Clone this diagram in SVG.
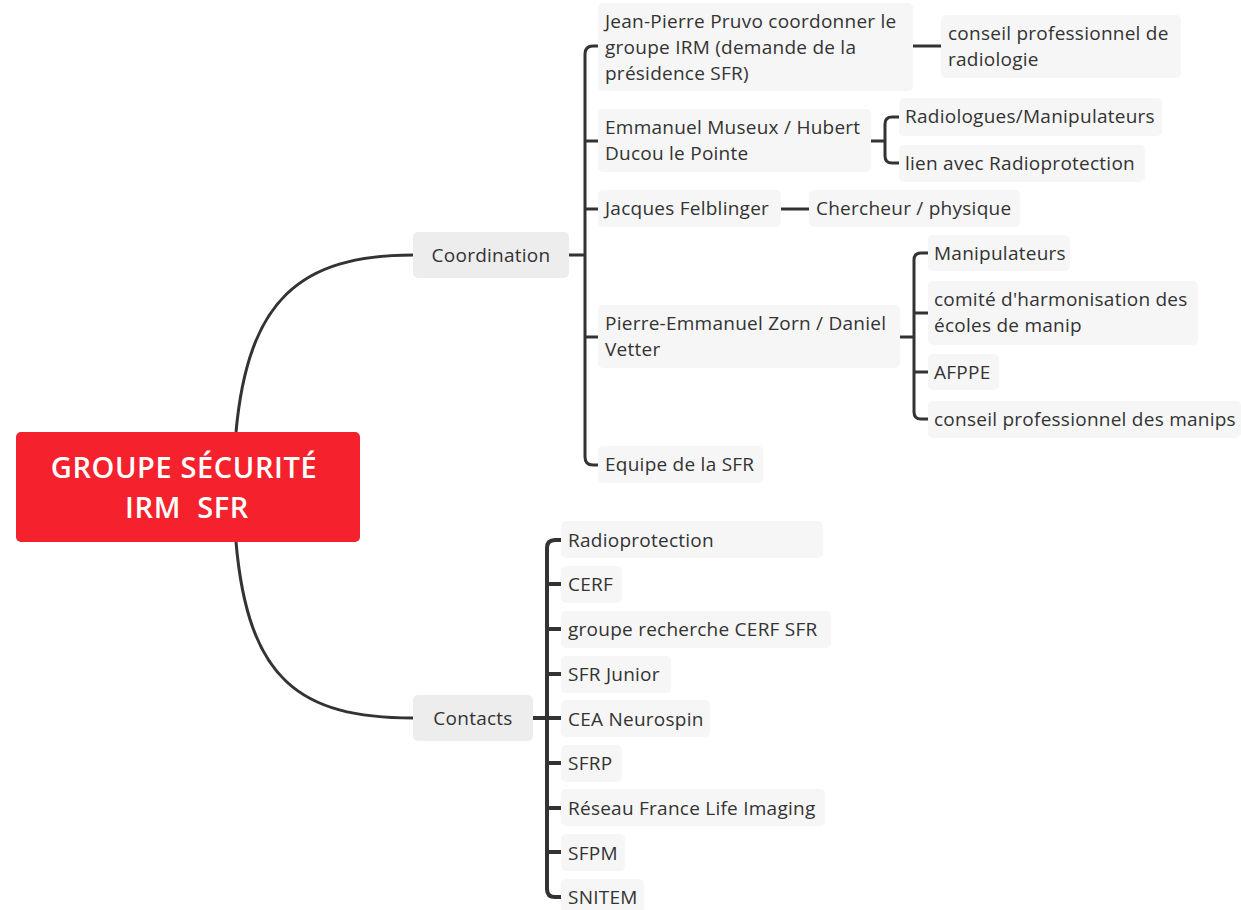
<svg xmlns="http://www.w3.org/2000/svg" width="1241" height="910" viewBox="0 0 1241 910">
<style>
.c{fill:none;stroke:#333;stroke-width:3;stroke-linecap:butt}
.ck{fill:none;stroke:#333;stroke-width:4}
.b{fill:#f6f6f6}
.m{fill:#ededed}
text{font-family:"Open Sans","Liberation Sans",sans-serif;font-size:19px;letter-spacing:0.25px;fill:#333}
.r{font-family:"Open Sans","Liberation Sans",sans-serif;font-size:29px;font-weight:600;letter-spacing:0.6px;fill:#fff;white-space:pre}
</style>
<rect width="1241" height="910" fill="#fff"/>
<g id="connectors">
<path class="c" d="M236,432 C248,300 300,255 413,255"/>
<path class="c" d="M236,542 C248,680 300,718 413,718"/>
<path class="c" d="M569,255 H585 M598,46 H593 Q585,46 585,54 V457 Q585,465 593,465 H598 M585,141 H598 M585,209 H598 M585,337 H598"/>
<path class="c" d="M913,46 H941"/>
<path class="c" d="M871,141 H885 M899,117 H892 Q885,117 885,124 V156 Q885,163 892,163 H899"/>
<path class="c" d="M781,209 H809"/>
<path class="c" d="M900,337 H914 M928,253 H921 Q914,253 914,260 V412 Q914,419 921,419 H928 M914,313 H928 M914,372 H928"/>
<path class="ck" d="M533,718 H547 M561,540 H555 Q547,540 547,548 V889 Q547,897 555,897 H561 M547,584 H561 M547,629 H561 M547,674 H561 M547,718 H561 M547,763 H561 M547,808 H561 M547,852 H561"/>
</g>
<g id="root">
<rect x="16" y="432" width="344" height="110" rx="5" fill="#f5222d"/>
<text class="r" x="184" y="478" text-anchor="middle">GROUPE SÉCURITÉ</text>
<text class="r" x="187" y="518" text-anchor="middle" xml:space="preserve">IRM  SFR</text>
</g>
<g id="coordination">
<rect class="m" x="413" y="232" width="156" height="46" rx="5"/>
<text x="491" y="262" text-anchor="middle">Coordination</text>
</g>
<g id="contacts">
<rect class="m" x="413" y="695" width="120" height="46" rx="5"/>
<text x="473" y="725" text-anchor="middle">Contacts</text>
</g>
<g id="jp">
<rect class="b" x="598" y="3" width="315" height="88" rx="5"/>
<text x="605" y="28">Jean-Pierre Pruvo coordonner le</text>
<text x="605" y="54">groupe IRM (demande de la</text>
<text x="605" y="80">présidence SFR)</text>
</g>
<g id="cpr">
<rect class="b" x="941" y="15" width="240" height="63" rx="5"/>
<text x="948" y="40">conseil professionnel de</text>
<text x="948" y="66">radiologie</text>
</g>
<g id="em">
<rect class="b" x="598" y="109" width="273" height="63" rx="5"/>
<text x="605" y="134">Emmanuel Museux / Hubert</text>
<text x="605" y="160">Ducou le Pointe</text>
</g>
<g id="rm">
<rect class="b" x="899" y="98" width="263" height="38" rx="5"/>
<text x="905" y="123">Radiologues/Manipulateurs</text>
</g>
<g id="lr">
<rect class="b" x="899" y="145" width="246" height="37" rx="5"/>
<text x="905" y="170">lien avec Radioprotection</text>
</g>
<g id="jf">
<rect class="b" x="598" y="190" width="183" height="37" rx="5"/>
<text x="605" y="215">Jacques Felblinger</text>
</g>
<g id="cp">
<rect class="b" x="809" y="190" width="211" height="37" rx="5"/>
<text x="816" y="215">Chercheur / physique</text>
</g>
<g id="pz">
<rect class="b" x="598" y="305" width="302" height="63" rx="5"/>
<text x="605" y="330">Pierre-Emmanuel Zorn / Daniel</text>
<text x="605" y="356">Vetter</text>
</g>
<g id="mp">
<rect class="b" x="928" y="235" width="142" height="36" rx="5"/>
<text x="934" y="260">Manipulateurs</text>
</g>
<g id="ch">
<rect class="b" x="928" y="281" width="270" height="64" rx="5"/>
<text x="934" y="306">comité d'harmonisation des</text>
<text x="934" y="332">écoles de manip</text>
</g>
<g id="af">
<rect class="b" x="928" y="354" width="71" height="36" rx="5"/>
<text x="934" y="379">AFPPE</text>
</g>
<g id="cm">
<rect class="b" x="928" y="401" width="313" height="37" rx="5"/>
<text x="934" y="426">conseil professionnel des manips</text>
</g>
<g id="eq">
<rect class="b" x="598" y="446" width="165" height="37" rx="5"/>
<text x="605" y="471">Equipe de la SFR</text>
</g>
<g id="k1"><rect class="b" x="561" y="521" width="262" height="37" rx="5"/><text x="568" y="547">Radioprotection</text></g>
<g id="k2"><rect class="b" x="561" y="566" width="61" height="37" rx="5"/><text x="568" y="591">CERF</text></g>
<g id="k3"><rect class="b" x="561" y="611" width="270" height="37" rx="5"/><text x="568" y="636">groupe recherche CERF SFR</text></g>
<g id="k4"><rect class="b" x="561" y="656" width="110" height="37" rx="5"/><text x="568" y="681">SFR Junior</text></g>
<g id="k5"><rect class="b" x="561" y="700" width="149" height="37" rx="5"/><text x="568" y="726">CEA Neurospin</text></g>
<g id="k6"><rect class="b" x="561" y="745" width="61" height="37" rx="5"/><text x="568" y="770">SFRP</text></g>
<g id="k7"><rect class="b" x="561" y="789" width="264" height="37" rx="5"/><text x="568" y="815">Réseau France Life Imaging</text></g>
<g id="k8"><rect class="b" x="561" y="834" width="64" height="37" rx="5"/><text x="568" y="860">SFPM</text></g>
<g id="k9"><rect class="b" x="561" y="879" width="83" height="37" rx="5"/><text x="568" y="904">SNITEM</text></g>
</svg>
